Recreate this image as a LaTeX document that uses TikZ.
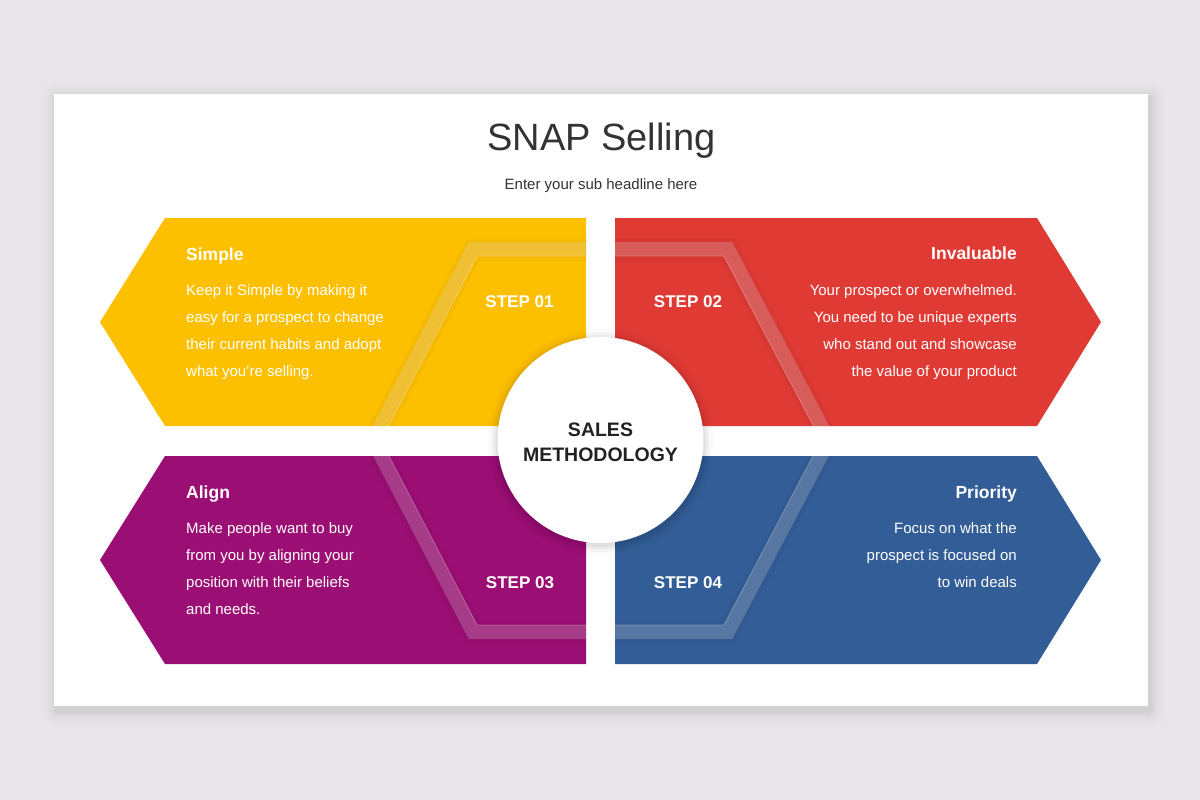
\documentclass[tikz,border=0pt]{standalone}
\usepackage{fontspec}
\setmainfont{Liberation Sans}
\definecolor{pagegray}{RGB}{232,230,232}
\definecolor{snapyellow}{RGB}{253,192,0}
\definecolor{snapred}{RGB}{224,58,53}
\definecolor{snappurple}{RGB}{155,14,116}
\definecolor{snapblue}{RGB}{50,93,150}
\definecolor{titlegray}{RGB}{51,51,51}
\tikzset{
  bodytext/.style={text=white,inner sep=0pt,font=\fontsize{15}{18}\selectfont},
  headtext/.style={text=white,inner sep=0pt,font=\bfseries\fontsize{17.5}{21}\selectfont},
  steptext/.style={text=white,inner sep=0pt,font=\bfseries\fontsize{17}{20}\selectfont},
}
\begin{document}
\begin{tikzpicture}[x=1pt,y=1pt,yscale=-1,xscale=1]
\useasboundingbox (0,0) rectangle (1200,800);

%Shape: Rectangle [page]
\fill [pagegray] (0,0) rectangle (1200,800);
%Shape: Rectangle [card shadow]
\foreach \s/\o in {16/0.008,12/0.01,9/0.012,6/0.015,4/0.018,2/0.02}
  \fill [black,opacity=\o,rounded corners=\s] (54-\s+3,94-\s+4) rectangle (1148+\s+2,706+\s+5);
%Shape: Rectangle [card]
\fill [white] (54,94) rectangle (1148,706);

%Shape: Polygon [yellow]
\fill [snapyellow] (165,218) -- (586,218) -- (586,426) -- (165,426) -- (100,322) -- cycle;
%Shape: Polygon [red]
\fill [snapred] (615,218) -- (1037,218) -- (1101,322) -- (1037,426) -- (615,426) -- cycle;
%Shape: Polygon [purple]
\fill [snappurple] (165,456) -- (586,456) -- (586,664) -- (165,664) -- (100,560) -- cycle;
%Shape: Polygon [blue]
\fill [snapblue] (615,456) -- (1037,456) -- (1101,560) -- (1037,664) -- (615,664) -- cycle;

%Shape: Hexagon [band]
\begin{scope}
\clip (165,218) -- (586,218) -- (586,426) -- (165,426) -- (100,322) -- cycle
      (615,218) -- (1037,218) -- (1101,322) -- (1037,426) -- (615,426) -- cycle
      (165,456) -- (586,456) -- (586,664) -- (165,664) -- (100,560) -- cycle
      (615,456) -- (1037,456) -- (1101,560) -- (1037,664) -- (615,664) -- cycle;
\draw [black,opacity=0.03,line width=22,line join=miter] (373,441) -- (473,250) -- (728,250) -- (829,441) -- (728,633) -- (473,633) -- cycle;
\draw [black,opacity=0.04,line width=14,line join=miter] (373,440.5) -- (473,249) -- (728,249) -- (829,440.5) -- (728,632) -- (473,632) -- cycle;
\draw [white,opacity=0.2,line width=14,line join=miter] (373,440.5) -- (473,249) -- (728,249) -- (829,440.5) -- (728,632) -- (473,632) -- cycle;
\draw [white,opacity=0.25,line width=0.8,line join=miter] (381,440.5) -- (477,256) -- (724,256) -- (821,440.5) -- (724,625) -- (477,625) -- cycle;
\end{scope}

%Shape: Circle [centre shadow]
\foreach \r/\o in {113/0.015,110/0.025,107.5/0.035,105/0.05}
  \fill [black,opacity=\o] (600.5,442) circle (\r);
%Shape: Circle [centre]
\fill [white] (600.5,440) circle (103);

% Text Node
\draw (601.5,150) node [anchor=base,inner sep=0pt,text=titlegray,font=\fontsize{38}{44}\selectfont] (title) {SNAP Selling};
% Text Node
\draw (601,189) node [anchor=base,inner sep=0pt,text=titlegray,font=\fontsize{15}{18}\selectfont] (subtitle) {Enter your sub headline here};

% Text Node
\draw (600.5,436) node [anchor=base,inner sep=0pt,text={rgb,255:red,34;green,34;blue,34},font=\bfseries\fontsize{19.5}{24}\selectfont] (sales) {SALES};
\draw (600.5,461) node [anchor=base,inner sep=0pt,text={rgb,255:red,34;green,34;blue,34},font=\bfseries\fontsize{19.5}{24}\selectfont] (method) {METHODOLOGY};

% Text Node
\draw (519.5,307) node [anchor=base,steptext] (step1) {STEP 01};
\draw (688,307) node [anchor=base,steptext] (step2) {STEP 02};
\draw (520,588) node [anchor=base,steptext] (step3) {STEP 03};
\draw (688,588) node [anchor=base,steptext] (step4) {STEP 04};

% Text Node
\draw (186,260) node [anchor=base west,headtext] (hsimple) {Simple};
\foreach \t [count=\i from 0] in {Keep it Simple by making it,easy for a prospect to change,their current habits and adopt,what you're selling.}
  \draw (186,295+27*\i) node [anchor=base west,bodytext] (simple\i) {\t};

% Text Node
\draw (1017,259) node [anchor=base east,headtext] (hinvaluable) {Invaluable};
\foreach \t [count=\i from 0] in {Your prospect or overwhelmed.,You need to be unique experts,who stand out and showcase,the value of your product}
  \draw (1017,295+27*\i) node [anchor=base east,bodytext] (invaluable\i) {\t};

% Text Node
\draw (186,498) node [anchor=base west,headtext] (halign) {Align};
\foreach \t [count=\i from 0] in {Make people want to buy,from you by aligning your,position with their beliefs,and needs.}
  \draw (186,533+27*\i) node [anchor=base west,bodytext] (align\i) {\t};

% Text Node
\draw (1017,498) node [anchor=base east,headtext] (hpriority) {Priority};
\foreach \t [count=\i from 0] in {Focus on what the,prospect is focused on,to win deals}
  \draw (1017,533+27*\i) node [anchor=base east,bodytext] (priority\i) {\t};

\end{tikzpicture}
\end{document}
